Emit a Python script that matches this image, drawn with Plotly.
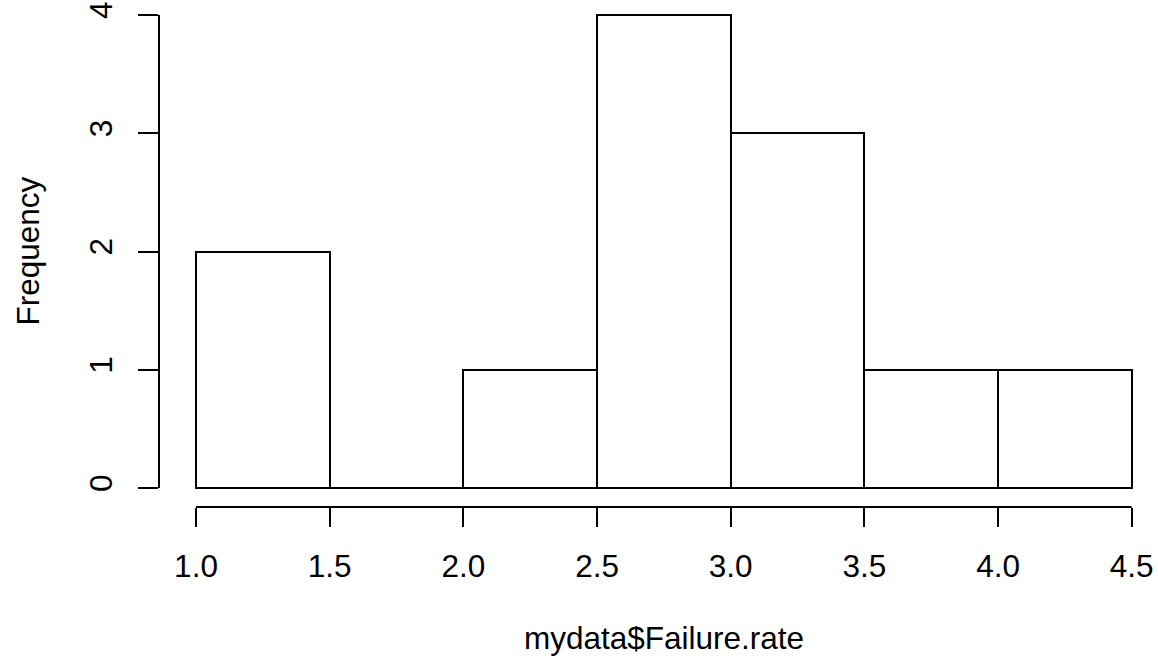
import plotly.graph_objects as go

# Histogram data
bin_edges = [1.0, 1.5, 2.0, 2.5, 3.0, 3.5, 4.0, 4.5]
frequencies = [2, 0, 1, 4, 3, 1, 1]
x_ticks = [1.0, 1.5, 2.0, 2.5, 3.0, 3.5, 4.0, 4.5]
y_ticks = [0, 1, 2, 3, 4]
x_title = "mydata$Failure.rate"
y_title = "Frequency"

centers = [(a + b) / 2 for a, b in zip(bin_edges[:-1], bin_edges[1:])]
widths = [b - a for a, b in zip(bin_edges[:-1], bin_edges[1:])]

FONT = "Liberation Sans, Arial, Helvetica, sans-serif"
FS = 31.5
LW = 2

fig = go.Figure()
fig.add_trace(go.Bar(
    x=centers, y=frequencies, width=widths,
    marker=dict(color="white", line=dict(color="black", width=LW)),
    showlegend=False, hoverinfo="x+y",
))
# baseline (R draws zero-height bins as a line)
fig.add_trace(go.Scatter(
    x=[bin_edges[0], bin_edges[-1]], y=[0, 0], mode="lines",
    line=dict(color="black", width=LW), showlegend=False, hoverinfo="skip",
))

fig.update_layout(
    width=1158, height=661,
    margin=dict(l=159, r=0, t=0, b=154),
    paper_bgcolor="white", plot_bgcolor="white",
    font=dict(family=FONT, size=FS, color="black"),
    bargap=0,
    xaxis=dict(
        range=[0.8616, 4.5983], tickvals=x_ticks,
        ticktext=[f"{v:.1f}" for v in x_ticks],
        ticks="outside", ticklen=19, tickwidth=LW, tickcolor="black",
        showline=False, showgrid=False, zeroline=False,
        tickfont=dict(family=FONT, size=FS, color="black"),
        ticklabelstandoff=12,
    ),
    yaxis=dict(
        range=[-0.1605, 4.127], tickvals=y_ticks,
        ticktext=[str(v) for v in y_ticks],
        ticks="outside", ticklen=20, tickwidth=LW, tickcolor="black",
        showline=False, showgrid=False, zeroline=False,
        tickangle=-90,
        tickfont=dict(family=FONT, size=FS, color="black"),
        ticklabelstandoff=13,
    ),
    shapes=[
        dict(type="line", xref="x", yref="paper", x0=x_ticks[0], x1=x_ticks[-1],
             y0=0, y1=0, line=dict(color="black", width=LW)),
        dict(type="line", xref="paper", yref="y", x0=0, x1=0,
             y0=y_ticks[0], y1=y_ticks[-1], line=dict(color="black", width=LW)),
    ],
    annotations=[
        dict(text=x_title, xref="x", yref="paper", x=2.75, y=0,
             yanchor="middle", xanchor="center", yshift=-131, showarrow=False,
             font=dict(family=FONT, size=FS, color="black")),
        dict(text=y_title, xref="paper", yref="y", x=0, y=2,
             xanchor="center", yanchor="middle", xshift=-131, textangle=-90,
             showarrow=False, font=dict(family=FONT, size=FS, color="black")),
    ],
)

fig.write_html("out.html")
